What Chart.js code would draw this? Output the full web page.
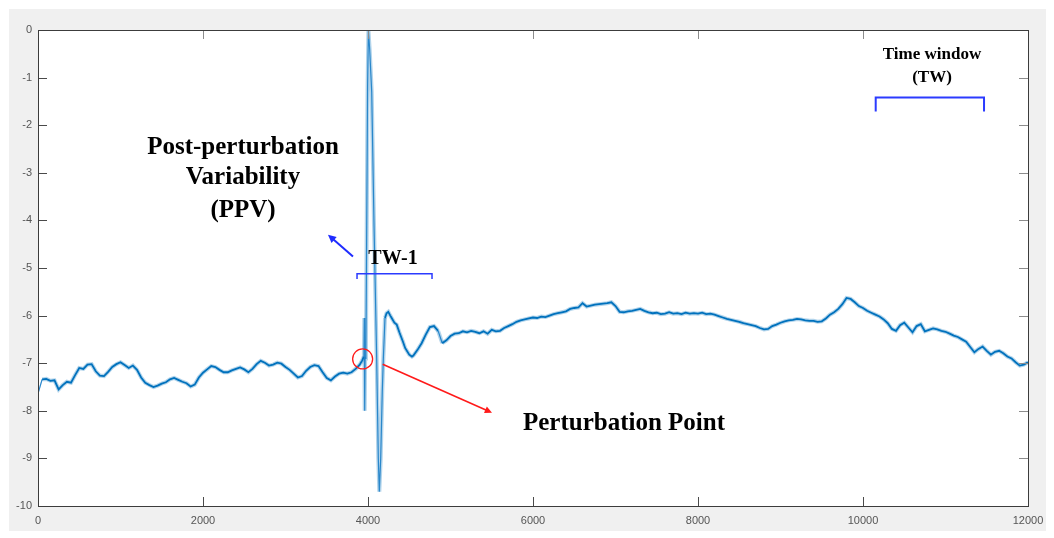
<!DOCTYPE html>
<html>
<head>
<meta charset="utf-8">
<script src="https://cdn.jsdelivr.net/npm/chart.js@4/dist/chart.umd.min.js"></script>
<style>
  html, body { margin: 0; padding: 0; background: #ffffff; }
  canvas { display: block; }
</style>
</head>
<body>
<canvas id="chart" width="1054" height="538"></canvas>
<script>
// Recorded signal: sample index and amplitude
const samples = [
  0, 50, 100, 150, 200, 250, 300, 350, 400, 450, 500, 550, 600, 650, 700, 750, 800, 850, 900, 950,
  1000, 1050, 1100, 1150, 1200, 1250, 1300, 1350, 1400, 1450, 1500, 1550, 1600, 1650, 1700, 1750, 1800, 1850, 1900, 1950,
  2000, 2050, 2100, 2150, 2200, 2250, 2300, 2350, 2400, 2450, 2500, 2550, 2600, 2650, 2700, 2750, 2800, 2850, 2900, 2950,
  3000, 3050, 3100, 3150, 3200, 3250, 3300, 3350, 3400, 3450, 3500, 3550, 3600, 3650, 3700, 3750, 3800, 3850, 3900,
  3930, 3950, 3955, 3960, 3965, 3975, 3985, 3995, 4005, 4020, 4045, 4073, 4105, 4125, 4137, 4154, 4173, 4186, 4206, 4225,
  4246, 4270, 4287, 4320, 4348, 4380, 4424, 4450, 4500, 4533, 4550,
  4600, 4650, 4700, 4750, 4800, 4850, 4900, 4950,
  5000, 5050, 5100, 5150, 5200, 5250, 5300, 5350, 5400, 5450, 5500, 5550, 5600, 5650, 5700, 5750, 5800, 5850, 5900, 5950,
  6000, 6050, 6100, 6150, 6200, 6250, 6300, 6350, 6400, 6450, 6500, 6550, 6600, 6650, 6700, 6750, 6800, 6850, 6900, 6950,
  7000, 7050, 7100, 7150, 7200, 7250, 7300, 7350, 7400, 7450, 7500, 7550, 7600, 7650, 7700, 7750, 7800, 7850, 7900, 7950,
  8000, 8050, 8100, 8150, 8200, 8250, 8300, 8350, 8400, 8450, 8500, 8550, 8600, 8650, 8700, 8750, 8800, 8850, 8900, 8950,
  9000, 9050, 9100, 9150, 9200, 9250, 9300, 9350, 9400, 9450, 9500, 9550, 9600, 9650, 9700, 9750, 9800, 9850, 9900, 9950,
  10000, 10050, 10100, 10150, 10200, 10250, 10300, 10350, 10400, 10450, 10500, 10550, 10600, 10650, 10700, 10750, 10800, 10850, 10900, 10950,
  11000, 11050, 11100, 11150, 11200, 11250, 11300, 11350, 11400, 11450, 11500, 11550, 11600, 11650, 11700, 11750, 11800, 11850, 11900, 11950,
  12000
];
const amplitude = [
  -7.64, -7.34, -7.33, -7.37, -7.36, -7.55, -7.46, -7.39, -7.41, -7.25, -7.10, -7.12, -7.03, -7.02, -7.17, -7.26, -7.27, -7.18, -7.08, -7.02,
  -6.98, -7.04, -7.10, -7.05, -7.14, -7.30, -7.41, -7.46, -7.50, -7.47, -7.43, -7.40, -7.34, -7.31, -7.35, -7.39, -7.42, -7.49, -7.45, -7.30,
  -7.20, -7.13, -7.06, -7.08, -7.14, -7.19, -7.19, -7.15, -7.12, -7.09, -7.13, -7.19, -7.12, -7.02, -6.95, -6.99, -7.05, -7.03, -6.99, -7.01,
  -7.08, -7.14, -7.22, -7.30, -7.27, -7.16, -7.08, -7.04, -7.06, -7.19, -7.31, -7.36, -7.28, -7.22, -7.20, -7.22, -7.19, -7.12, -7.03,
  -6.94, -6.86, -6.05, -8.00, -6.90, -6.60, -4.00, -1.20, 0.00, -0.40, -1.30, -4.10, -6.90, -9.00, -9.70, -9.00, -7.60, -6.90, -6.05, -5.95,
  -5.92, -6.00, -6.05, -6.15, -6.19, -6.35, -6.55, -6.68, -6.82, -6.86, -6.84,
  -6.72, -6.58, -6.40, -6.24, -6.22, -6.32, -6.58, -6.52,
  -6.43, -6.38, -6.37, -6.33, -6.35, -6.32, -6.34, -6.37, -6.33, -6.38, -6.30, -6.33, -6.32, -6.26, -6.22, -6.18, -6.13, -6.10, -6.08, -6.06,
  -6.04, -6.05, -6.02, -6.03, -6.00, -5.97, -5.95, -5.93, -5.91, -5.86, -5.84, -5.83, -5.74, -5.81, -5.79, -5.77, -5.76, -5.75, -5.74, -5.72,
  -5.80, -5.92, -5.93, -5.91, -5.90, -5.88, -5.86, -5.90, -5.93, -5.95, -5.94, -5.97, -5.96, -5.93, -5.96, -5.95, -5.97, -5.94, -5.96, -5.95,
  -5.96, -5.94, -5.97, -5.96, -5.98, -6.01, -6.04, -6.07, -6.09, -6.11, -6.13, -6.16, -6.18, -6.20, -6.22, -6.26, -6.29, -6.28, -6.22, -6.19,
  -6.15, -6.12, -6.10, -6.09, -6.07, -6.08, -6.10, -6.11, -6.11, -6.13, -6.12, -6.06, -5.98, -5.93, -5.86, -5.76, -5.63, -5.65, -5.72, -5.80,
  -5.84, -5.90, -5.94, -5.98, -6.02, -6.08, -6.16, -6.28, -6.32, -6.20, -6.15, -6.25, -6.35, -6.22, -6.18, -6.33, -6.30, -6.27, -6.29, -6.32,
  -6.34, -6.38, -6.42, -6.45, -6.50, -6.55, -6.66, -6.77, -6.70, -6.65, -6.74, -6.82, -6.76, -6.74, -6.79, -6.86, -6.90, -6.98, -7.05, -7.03,
  -6.98
];

// Axis ticks
const xTicks = [0, 2000, 4000, 6000, 8000, 10000, 12000];
const yTicks = [-10, -9, -8, -7, -6, -5, -4, -3, -2, -1, 0];

// Annotation texts
const ppvLines = ['Post-perturbation', 'Variability', '(PPV)'];
const tw1Label = 'TW-1';
const perturbLabel = 'Perturbation Point';
const twLines = ['Time window', '(TW)'];

const points = samples.map((s, i) => ({ x: s, y: amplitude[i] }));

// steep segments (the perturbation transient) are drawn thinner
const isSteep = ctx => {
  const dx = Math.abs(ctx.p1.x - ctx.p0.x);
  const dy = Math.abs(ctx.p1.y - ctx.p0.y);
  return dy > 12 && dy > 3 * dx;
};

const figureBackground = {
  id: 'figureBackground',
  beforeDraw(chart) {
    const { ctx, chartArea: a } = chart;
    ctx.save();
    ctx.fillStyle = '#ffffff';
    ctx.fillRect(0, 0, chart.width, chart.height);
    ctx.fillStyle = '#f0f0f0';
    ctx.fillRect(9, 9, 1037, 522);
    ctx.fillStyle = '#ffffff';
    ctx.fillRect(a.left, a.top, a.right - a.left, a.bottom - a.top);
    ctx.restore();
  }
};

function arrow(ctx, x1, y1, x2, y2, color, width, head) {
  const ang = Math.atan2(y2 - y1, x2 - x1);
  ctx.strokeStyle = color;
  ctx.fillStyle = color;
  ctx.lineWidth = width;
  ctx.beginPath();
  ctx.moveTo(x1, y1);
  ctx.lineTo(x2 - Math.cos(ang) * head * 0.6, y2 - Math.sin(ang) * head * 0.6);
  ctx.stroke();
  ctx.beginPath();
  ctx.moveTo(x2, y2);
  ctx.lineTo(x2 - head * Math.cos(ang - 0.45), y2 - head * Math.sin(ang - 0.45));
  ctx.lineTo(x2 - head * Math.cos(ang + 0.45), y2 - head * Math.sin(ang + 0.45));
  ctx.closePath();
  ctx.fill();
}

const boxAndTicks = {
  id: 'boxAndTicks',
  afterDatasetsDraw(chart) {
    const { ctx, chartArea: a, scales } = chart;
    const tl = 9;
    ctx.save();
    ctx.lineWidth = 1;
    // inward tick marks
    xTicks.forEach(v => {
      const px = Math.round(scales.x.getPixelForValue(v)) + 0.5;
      ctx.strokeStyle = '#4a4a4a';
      ctx.beginPath(); ctx.moveTo(px, a.bottom); ctx.lineTo(px, a.bottom - tl); ctx.stroke();
      ctx.strokeStyle = '#8c8c8c';
      ctx.beginPath(); ctx.moveTo(px, a.top); ctx.lineTo(px, a.top + tl); ctx.stroke();
    });
    yTicks.forEach(v => {
      const py = Math.round(scales.y.getPixelForValue(v)) + 0.5;
      ctx.strokeStyle = '#4a4a4a';
      ctx.beginPath(); ctx.moveTo(a.left, py); ctx.lineTo(a.left + tl, py); ctx.stroke();
      ctx.strokeStyle = '#8c8c8c';
      ctx.beginPath(); ctx.moveTo(a.right, py); ctx.lineTo(a.right - tl, py); ctx.stroke();
    });
    // axes box
    ctx.strokeStyle = '#3c3c3c';
    ctx.strokeRect(Math.round(a.left) + 0.5, Math.round(a.top) + 0.5,
                   Math.round(a.right - a.left), Math.round(a.bottom - a.top));
    ctx.restore();
  }
};

const serif = '"Liberation Serif", "Times New Roman", serif';

const annotations = {
  id: 'annotations',
  afterDraw(chart) {
    const { ctx, scales } = chart;
    const X = v => scales.x.getPixelForValue(v);
    const Y = v => scales.y.getPixelForValue(v);
    ctx.save();
    ctx.textAlign = 'center';
    ctx.textBaseline = 'middle';

    // PPV label
    ctx.fillStyle = '#000000';
    ctx.font = 'bold 25px ' + serif;
    [-2.46, -3.09, -3.80].forEach((yv, i) => ctx.fillText(ppvLines[i], X(2485), Y(yv)));

    // Blue arrow pointing to PPV label
    arrow(ctx, X(3818), Y(-4.76), X(3515), Y(-4.30), '#1f2cff', 2, 9);

    // TW-1 label and bracket
    ctx.fillStyle = '#000000';
    ctx.font = 'bold 20px ' + serif;
    ctx.fillText(tw1Label, X(4303), Y(-4.81));
    ctx.strokeStyle = '#2b3bff';
    ctx.lineWidth = 1.5;
    ctx.beginPath();
    ctx.moveTo(X(3867), Y(-5.23));
    ctx.lineTo(X(3867), Y(-5.12));
    ctx.lineTo(X(4776), Y(-5.12));
    ctx.lineTo(X(4776), Y(-5.23));
    ctx.stroke();

    // Perturbation point marker
    ctx.strokeStyle = '#ff1a1a';
    ctx.lineWidth = 1.3;
    ctx.beginPath();
    ctx.arc(X(3935), Y(-6.91), 10, 0, Math.PI * 2);
    ctx.stroke();
    arrow(ctx, X(4178), Y(-7.02), X(5503), Y(-8.04), '#ff1a1a', 1.6, 8);

    ctx.fillStyle = '#000000';
    ctx.font = 'bold 25px ' + serif;
    ctx.fillText(perturbLabel, X(7103), Y(-8.27));

    // Time window label and bracket
    ctx.font = 'bold 17px ' + serif;
    ctx.fillText(twLines[0], X(10836), Y(-0.52));
    ctx.fillText(twLines[1], X(10836), Y(-1.01));
    ctx.strokeStyle = '#2b3bff';
    ctx.lineWidth = 2;
    ctx.beginPath();
    ctx.moveTo(X(10154), Y(-1.71));
    ctx.lineTo(X(10154), Y(-1.42));
    ctx.lineTo(X(11467), Y(-1.42));
    ctx.lineTo(X(11467), Y(-1.71));
    ctx.stroke();
    ctx.restore();
  }
};

Chart.defaults.font.family = '"Liberation Sans", Arial, sans-serif';
Chart.defaults.font.size = 11;
Chart.defaults.color = '#555555';

new Chart(document.getElementById('chart'), {
  type: 'line',
  data: {
    datasets: [{
      // soft halo under the trace
      data: points,
      borderColor: 'rgba(0, 114, 189, 0.30)',
      borderWidth: 4,
      pointRadius: 0,
      tension: 0,
      fill: false,
      segment: {
        borderWidth: c => isSteep(c) ? 0 : 4
      }
    }, {
      data: points,
      borderColor: 'rgb(0, 114, 189)',
      borderWidth: 1.8,
      pointRadius: 0,
      tension: 0,
      fill: false,
      segment: {
        borderWidth: c => isSteep(c) ? 1.2 : 1.8,
        borderColor: c => isSteep(c) ? 'rgb(60, 145, 210)' : 'rgb(0, 114, 189)'
      }
    }]
  },
  options: {
    responsive: false,
    animation: false,
    devicePixelRatio: 1,
    layout: { padding: { left: 0, top: 30, right: 26, bottom: 0 } },
    plugins: { legend: { display: false }, tooltip: { enabled: false } },
    scales: {
      x: {
        type: 'linear',
        min: 0, max: 12000,
        afterBuildTicks: s => { s.ticks = xTicks.map(v => ({ value: v })); },
        afterFit: s => { s.height = 32; },
        grid: { display: false, drawTicks: false },
        border: { display: false },
        ticks: { padding: 8, maxRotation: 0, autoSkip: false, callback: v => String(v) }
      },
      y: {
        type: 'linear',
        min: -10, max: 0,
        afterBuildTicks: s => { s.ticks = yTicks.map(v => ({ value: v })); },
        afterFit: s => { s.width = 38; },
        grid: { display: false, drawTicks: false },
        border: { display: false },
        ticks: { padding: 6, autoSkip: false, callback: v => String(v) }
      }
    }
  },
  plugins: [figureBackground, boxAndTicks, annotations]
});
</script>
</body>
</html>
